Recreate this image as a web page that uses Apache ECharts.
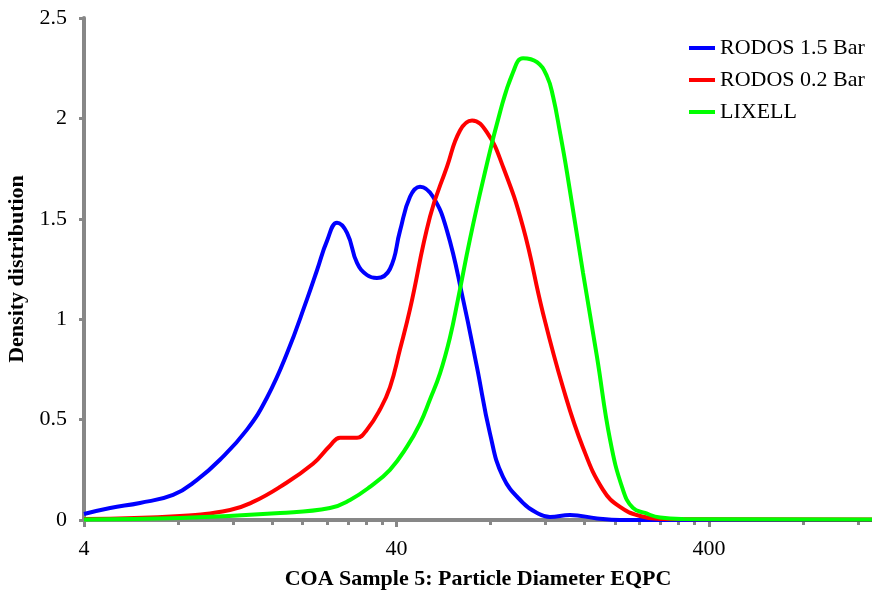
<!DOCTYPE html>
<html>
<head>
<meta charset="utf-8">
<script src="https://cdn.jsdelivr.net/npm/echarts@6/dist/echarts.min.js"></script>
<style>
html,body{margin:0;padding:0;background:#fff;}
#chart{width:872px;height:592px;}
</style>
</head>
<body>
<div id="chart"></div>
<script>
// Particle diameter (EQPC) and density values
var seriesNames = ['RODOS 1.5 Bar', 'RODOS 0.2 Bar', 'LIXELL'];

var rodos15D = [4, 4.85, 6.04, 7.71, 9.2, 10.89, 13.29, 15.41, 17.85, 20.69, 22.28, 23.97, 25.8, 27.78, 29.9, 32.17, 34.63, 38.11, 41.04, 44.18, 47.56, 52.33, 58.03, 65.29, 72.38, 79.65, 87.64, 101.55, 112.6, 123.9, 143.6, 175.3, 207.6, 1329];
var rodos15V = [0.03, 0.06, 0.085, 0.125, 0.2, 0.3, 0.45, 0.61, 0.83, 1.1, 1.245, 1.39, 1.48, 1.43, 1.28, 1.22, 1.205, 1.25, 1.44, 1.61, 1.66, 1.61, 1.44, 1.1, 0.76, 0.43, 0.215, 0.085, 0.035, 0.015, 0.025, 0.008, 0, 0];

var rodos02D = [4, 8.11, 11.73, 13.9, 16.96, 21.62, 24.5, 26.38, 29.9, 32.17, 35.41, 38.11, 41.04, 44.18, 51.18, 58.03, 63.86, 69.77, 77.9, 87.64, 101.55, 117.7, 136.4, 158.1, 183.2, 207.6, 240.6, 278.9, 1329];
var rodos02V = [0.005, 0.02, 0.05, 0.09, 0.165, 0.28, 0.37, 0.41, 0.41, 0.45, 0.55, 0.66, 0.85, 1.05, 1.51, 1.76, 1.94, 1.99, 1.93, 1.76, 1.46, 1.03, 0.66, 0.36, 0.15, 0.065, 0.02, 0.005, 0.003];

var lixellD = [4, 8.11, 16.96, 24.5, 28.41, 32.89, 38.11, 43.21, 47.56, 51.18, 55.11, 59.33, 62.93, 68.75, 75.65, 85.73, 94.4, 101.55, 112.6, 121.2, 126.7, 133.4, 140.5, 158.1, 175.3, 192.9, 212.2, 228.4, 249.6, 278.9, 330.4, 1329];
var lixellV = [0.003, 0.01, 0.035, 0.06, 0.1, 0.165, 0.25, 0.365, 0.48, 0.6, 0.73, 0.91, 1.1, 1.4, 1.69, 2.03, 2.23, 2.3, 2.28, 2.21, 2.11, 1.93, 1.73, 1.23, 0.81, 0.4, 0.15, 0.06, 0.035, 0.012, 0.005, 0.002];

var xMin = 4, xMax = 1329;
var xMajorTicks = [4, 40, 400];
var xMinorTicks = [8, 12, 16, 20, 24, 28, 32, 36, 80, 120, 160, 200, 240, 280, 320, 360, 800, 1200];
var yMin = 0, yMax = 2.5, yStep = 0.5;

var colors = ['#0000ff', '#ff0000', '#00ff00'];
var font = "'Liberation Serif', 'Times New Roman', serif";
var axisGray = '#878787';

function lg(v) { return Math.log10(v); }
function pairs(d, v) { return d.map(function (x, i) { return [lg(x), v[i]]; }); }

var dataSets = [pairs(rodos15D, rodos15V), pairs(rodos02D, rodos02V), pairs(lixellD, lixellV)];

var chart = echarts.init(document.getElementById('chart'), null, {renderer: 'canvas'});
chart.setOption({
  animation: false,
  backgroundColor: '#ffffff',
  textStyle: {fontFamily: font},
  grid: {left: 84, right: 0, top: 18, bottom: 72, containLabel: false, outerBoundsMode: 'none'},
  legend: {
    orient: 'vertical',
    left: 684,
    top: 32,
    itemWidth: 26,
    itemHeight: 4,
    itemGap: 10,
    icon: 'rect',
    data: seriesNames,
    textStyle: {fontFamily: font, fontSize: 22, color: '#000', lineHeight: 22}
  },
  xAxis: [{
    type: 'value',
    min: lg(xMin),
    max: lg(xMax),
    name: 'COA Sample 5: Particle Diameter EQPC',
    nameLocation: 'middle',
    nameGap: 48,
    nameTextStyle: {fontFamily: font, fontSize: 22, fontWeight: 'bold', color: '#000'},
    axisLine: {show: true, onZero: false, lineStyle: {color: axisGray, width: 4}},
    axisTick: {show: true, length: 7, customValues: xMajorTicks.map(lg), lineStyle: {color: axisGray, width: 3}},
    axisLabel: {
      customValues: xMajorTicks.map(lg),
      margin: 18,
      fontFamily: font, fontSize: 22, color: '#000',
      formatter: function (v) { return String(Math.round(Math.pow(10, v))); }
    },
    splitLine: {show: false}
  }, {
    type: 'value',
    position: 'bottom',
    min: lg(xMin),
    max: lg(xMax),
    axisLine: {show: false},
    axisTick: {show: true, length: 5, customValues: xMinorTicks.map(lg), lineStyle: {color: axisGray, width: 3}},
    axisLabel: {show: false},
    splitLine: {show: false}
  }],
  yAxis: {
    type: 'value',
    min: yMin,
    max: yMax,
    interval: yStep,
    name: 'Density distribution',
    nameLocation: 'middle',
    nameGap: 48,
    nameRotate: 90,
    nameTextStyle: {fontFamily: font, fontSize: 22, fontWeight: 'bold', color: '#000'},
    axisLine: {show: true, lineStyle: {color: axisGray, width: 4}},
    axisTick: {show: true, length: 5, lineStyle: {color: axisGray, width: 3}},
    axisLabel: {margin: 17, fontFamily: font, fontSize: 22, color: '#000',
      formatter: function (v) { return String(v); }},
    splitLine: {show: false}
  },
  series: seriesNames.map(function (n, i) {
    return {
      name: n,
      type: 'line',
      xAxisIndex: 0,
      data: dataSets[i],
      smooth: 0.45,
      showSymbol: false,
      symbol: 'none',
      color: colors[i],
      lineStyle: {color: colors[i], width: 4},
      clip: true
    };
  })
});
</script>
</body>
</html>
